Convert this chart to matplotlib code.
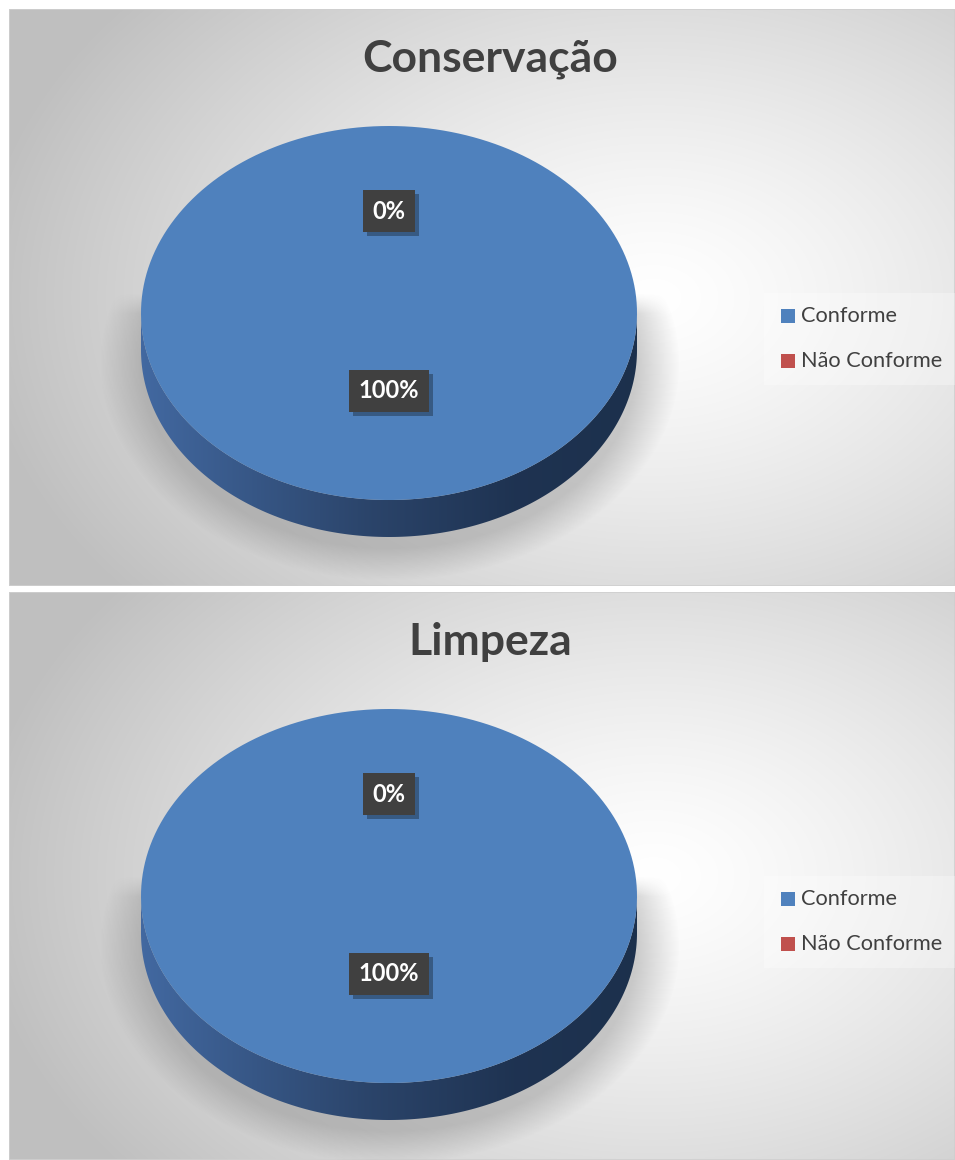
import numpy as np
import matplotlib.pyplot as plt
import matplotlib.patheffects as pe
from matplotlib.patches import Polygon, Rectangle

plt.rcParams['font.family'] = ['Lato', 'DejaVu Sans']

# dados
titles = ['Conservação', 'Limpeza']
categories = ['Conforme', 'Não Conforme']
values_conservacao = [100, 0]
values_limpeza = [100, 0]
all_values = [values_conservacao, values_limpeza]
colors = ['#4f81bd', '#c0504d']

W, H = 955, 1160
fig = plt.figure(figsize=(W / 100, H / 100), dpi=100)
fig.patch.set_facecolor('white')

# paineis em pixels (x0, y0, x1, y1)
panels = [(9, 9, 955, 586), (9, 592, 955, 1160)]


def make_bg(pw, ph):
    yy, xx = np.mgrid[0:ph, 0:pw]
    cx, cy = 0.68 * pw, 0.50 * ph
    t = np.sqrt(((xx - cx) / 680.0) ** 2 + ((yy - cy) / 470.0) ** 2)
    t = np.clip(t, 0, 1)
    g = 1.0 - 0.25 * t ** 1.3
    return np.dstack([g, g, g])


def ellipse_pts(cx, cy, a, b, t0, t1, n=200):
    # angulo a partir do topo, sentido horario
    th = np.linspace(t0, t1, n)
    return np.column_stack([cx + a * np.sin(th), cy - b * np.cos(th)])


for (x0, y0, x1, y1), title, vals in zip(panels, titles, all_values):
    pw, ph = x1 - x0, y1 - y0
    ax = fig.add_axes([x0 / W, 1 - y1 / H, pw / W, ph / H])
    ax.set_xlim(0, pw)
    ax.set_ylim(ph, 0)
    ax.axis('off')
    ax.imshow(make_bg(pw, ph), extent=(0, pw, ph, 0), zorder=0, aspect='auto')
    ax.add_patch(Rectangle((0, 0), pw, ph, fill=False, ec='#cfcfcf', lw=1.2, zorder=1))

    cx, cy, a, b, depth = 380, 304, 248, 187, 37

    # sombra
    yy, xx = np.mgrid[0:ph, 0:pw]
    d = np.sqrt(((xx - cx) / (a + 20.0)) ** 2 + ((yy - (cy + 50)) / (b + 14.0)) ** 2)
    alpha = np.clip((1.08 - d) / 0.16, 0, 1) * 0.34
    alpha[yy < cy] *= np.clip((yy[yy < cy] - (cy - 20)) / 20.0, 0, 1)
    shadow = np.zeros((ph, pw, 4))
    shadow[..., 0:3] = 0.45
    shadow[..., 3] = alpha
    ax.imshow(shadow, extent=(0, pw, ph, 0), zorder=2, aspect='auto')

    # lateral
    fr = ellipse_pts(cx, cy, a, b, np.pi / 2, 3 * np.pi / 2)
    side = np.vstack([fr, (fr + [0, depth])[::-1]])
    side_patch = Polygon(side, closed=True, fc='none', ec='none', zorder=3)
    ax.add_patch(side_patch)
    sx = np.linspace(0, 1, 300)
    r = np.interp(sx, [0, 0.45, 0.75, 1], [0.26, 0.17, 0.12, 0.11])
    g = np.interp(sx, [0, 0.45, 0.75, 1], [0.41, 0.27, 0.20, 0.19])
    bb = np.interp(sx, [0, 0.45, 0.75, 1], [0.63, 0.42, 0.32, 0.30])
    grad = np.dstack([r, g, bb])
    im = ax.imshow(grad, extent=(cx - a, cx + a, cy + b + depth, cy - 5), zorder=3, aspect='auto')
    im.set_clip_path(side_patch)

    # fatias do topo
    total = float(sum(vals))
    start = 0.0
    mids = []
    for v, c in zip(vals, colors):
        span = 2 * np.pi * v / total
        if v > 0:
            pts = ellipse_pts(cx, cy, a, b, start, start + span)
            if v < total:
                pts = np.vstack([[cx, cy], pts])
            ax.add_patch(Polygon(pts, closed=True, fc=c, ec='none', zorder=4))
        mids.append(start + span / 2)
        start += span

    # rotulos
    for v, m in zip(vals, mids):
        lx = cx + 0.48 * a * np.sin(m)
        ly = cy - 0.48 * b * np.cos(m) - 12
        t = ax.text(lx, ly, f'{v / total:.0%}', ha='center', va='center', fontsize=17,
                    fontweight='bold', color='white', zorder=6,
                    bbox=dict(boxstyle='square,pad=0.4', fc='#404040', ec='none'))
        t.get_bbox_patch().set_path_effects(
            [pe.SimplePatchShadow(offset=(3, -3), shadow_rgbFace='black', alpha=0.3), pe.Normal()])

    # titulo
    ax.text(pw / 2 + 8, 50, title, ha='center', va='center', fontsize=32,
            fontweight='bold', color='#404040', zorder=5)

    # legenda
    ax.add_patch(Rectangle((755, 284), pw - 755, 92, fc='white', ec='none', alpha=0.3, zorder=4))
    for i, (cat, c) in enumerate(zip(categories, colors)):
        ly = 307 + 45 * i
        ax.add_patch(Rectangle((772, ly - 7), 14, 14, fc=c, ec='none', zorder=5))
        ax.text(792, ly, cat, ha='left', va='center', fontsize=15.7,
                color='#404040', zorder=5)

fig.savefig('out.png', dpi=100)
